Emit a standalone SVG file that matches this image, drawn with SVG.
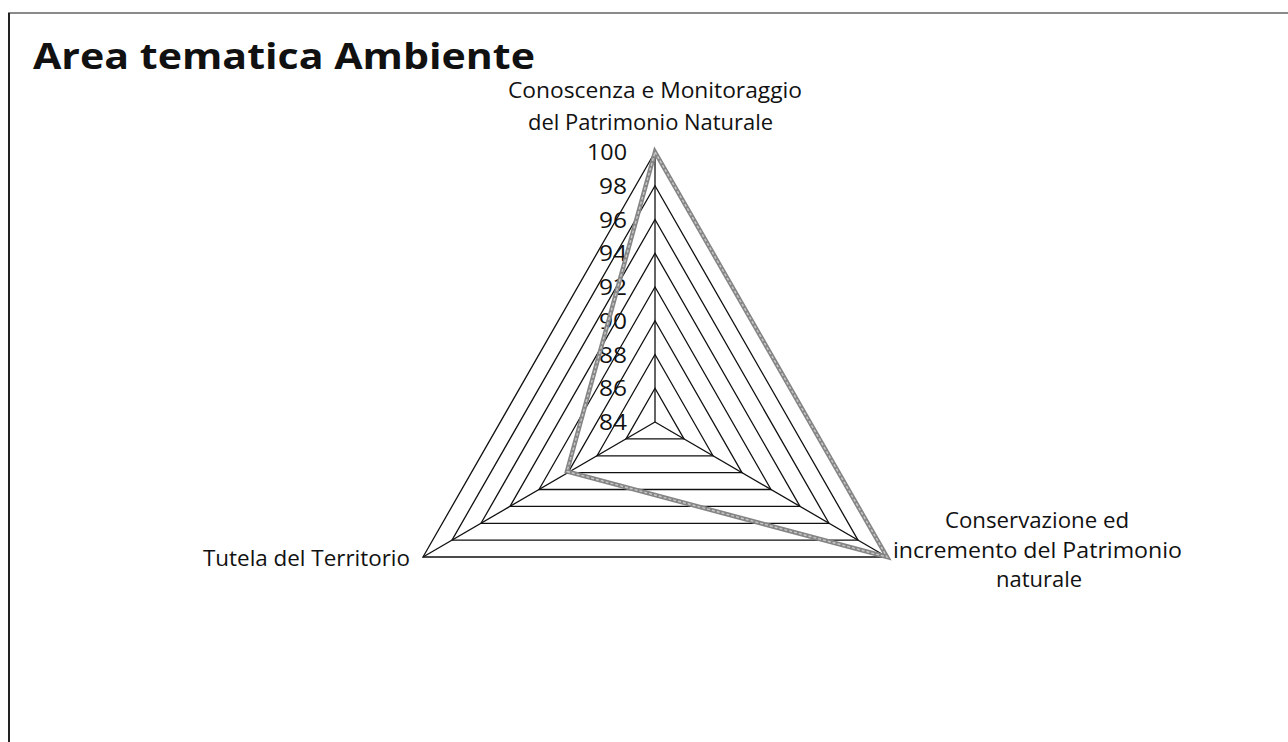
<svg xmlns="http://www.w3.org/2000/svg" width="1288" height="742" viewBox="0 0 1288 742">
<style>
text{font-family:"Open Sans","Liberation Sans",sans-serif;fill:#111;}
.lbl{font-size:21.5px;}
.val{font-size:21.5px;text-anchor:end;}
.title{font-size:36px;font-weight:bold;}
.ring{fill:none;stroke:#111;stroke-width:1.3;}
.axis{stroke:#111;stroke-width:1.3;}
.series{fill:none;stroke:#858585;stroke-width:4.5;stroke-linejoin:miter;}
.series2{fill:none;stroke:#c8c8c8;stroke-width:1.4;stroke-dasharray:3 2;}
</style>
<rect width="1288" height="742" fill="#fff"/>
<g id="frame">
<line x1="8" y1="13" x2="1288" y2="13" stroke="#8a8a8a" stroke-width="2"/>
<line x1="9" y1="13" x2="9" y2="742" stroke="#222" stroke-width="2"/>
</g>
<g id="title">
<text class="title" x="33" y="69" textLength="502" lengthAdjust="spacingAndGlyphs">Area tematica Ambiente</text>
</g>
<g id="grid">
<polygon class="ring" points="655,388.25 684,438.9 626,438.9"/>
<polygon class="ring" points="655,354.5 713,455.8 597,455.8"/>
<polygon class="ring" points="655,320.75 742,472.6 568,472.6"/>
<polygon class="ring" points="655,287 771,489.5 539,489.5"/>
<polygon class="ring" points="655,253.25 800,506.4 510,506.4"/>
<polygon class="ring" points="655,219.5 829,523.3 481,523.3"/>
<polygon class="ring" points="655,185.75 858,540.1 452,540.1"/>
<polygon class="ring" points="655,152 887,557 423,557"/>
</g>
<g id="axes">
<line class="axis" x1="655" y1="422" x2="655" y2="152"/>
<line class="axis" x1="655" y1="422" x2="887" y2="557"/>
<line class="axis" x1="655" y1="422" x2="423" y2="557"/>
</g>
<g id="scale">
<text class="val" x="627" y="160" textLength="40" lengthAdjust="spacingAndGlyphs">100</text>
<text class="val" x="627" y="194" textLength="28" lengthAdjust="spacingAndGlyphs">98</text>
<text class="val" x="627" y="228" textLength="28" lengthAdjust="spacingAndGlyphs">96</text>
<text class="val" x="627" y="261" textLength="28" lengthAdjust="spacingAndGlyphs">94</text>
<text class="val" x="627" y="295" textLength="28" lengthAdjust="spacingAndGlyphs">92</text>
<text class="val" x="627" y="329" textLength="28" lengthAdjust="spacingAndGlyphs">90</text>
<text class="val" x="627" y="363" textLength="28" lengthAdjust="spacingAndGlyphs">88</text>
<text class="val" x="627" y="396" textLength="28" lengthAdjust="spacingAndGlyphs">86</text>
<text class="val" x="627" y="430" textLength="28" lengthAdjust="spacingAndGlyphs">84</text>
</g>
<g id="series">
<polygon class="series" points="655,152 887,557 567,471.5"/>
<polygon class="series2" points="655,152 887,557 567,471.5"/>
</g>
<g id="label-conoscenza">
<text class="lbl" x="655" y="98" text-anchor="middle" textLength="294" lengthAdjust="spacingAndGlyphs">Conoscenza e Monitoraggio</text>
<text class="lbl" x="650.5" y="130" text-anchor="middle" textLength="245" lengthAdjust="spacingAndGlyphs">del Patrimonio Naturale</text>
</g>
<g id="label-conservazione">
<text class="lbl" x="1037" y="528" text-anchor="middle" textLength="184" lengthAdjust="spacingAndGlyphs">Conservazione ed</text>
<text class="lbl" x="1037.5" y="558" text-anchor="middle" textLength="289" lengthAdjust="spacingAndGlyphs">incremento del Patrimonio</text>
<text class="lbl" x="1039" y="587" text-anchor="middle" textLength="86" lengthAdjust="spacingAndGlyphs">naturale</text>
</g>
<g id="label-tutela">
<text class="lbl" x="203" y="566" textLength="207" lengthAdjust="spacingAndGlyphs">Tutela del Territorio</text>
</g>
</svg>
